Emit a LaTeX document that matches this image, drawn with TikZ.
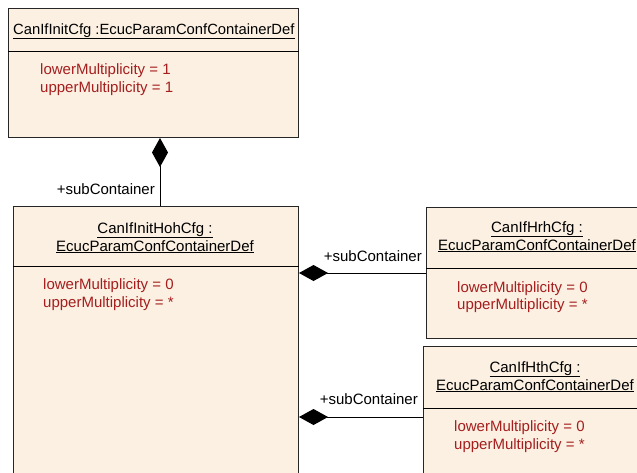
\documentclass[tikz,border=0pt]{standalone}
\usepackage{fontspec}
\setmainfont{Liberation Sans}
\usepackage{tikz}
\usetikzlibrary{arrows.meta}

\definecolor{clsfill}{RGB}{251,240,226}
\definecolor{attrred}{RGB}{165,30,30}

\begin{document}
\begin{tikzpicture}[x=1pt, y=-1pt,
    every node/.style={font=\fontsize{15}{18}\selectfont, inner sep=0pt},
    cls/.style={draw=black!85, fill=clsfill, line width=1pt, anchor=north west},
    ttl/.style={align=center, anchor=base},
    attr/.style={text=attrred, anchor=base west},
    lbl/.style={anchor=base east},
    comp/.style={line width=1pt, -{Diamond[length=29pt, width=16pt]}}]
  \clip (0,0) rectangle (637,472);
  % top container
  \node[cls, minimum width=290pt, minimum height=129pt] (initcfg) at (8,8) {};
  \draw[line width=1pt] (initcfg.west |- 0,51) -- (initcfg.east |- 0,51);
  \node[anchor=base west, font=\fontsize{14.8}{18}\selectfont] (initcfgname) at (13,34) {\underline{CanIfInitCfg :EcucParamConfContainerDef}};
  \node[attr] (initcfglow) at (40,74) {lowerMultiplicity = 1};
  \node[attr] (initcfgup) at (40,92) {upperMultiplicity = 1};
  % hoh container
  \node[cls, minimum width=285pt, minimum height=280pt] (hoh) at (13,206) {};
  \draw[line width=1pt] (hoh.west |- 0,266) -- (hoh.east |- 0,266);
  \node[ttl] (hohname) at (155,251) {\underline{CanIfInitHohCfg :}\\\underline{EcucParamConfContainerDef}};
  \node[attr] (hohlow) at (43,289) {lowerMultiplicity = 0};
  \node[attr] (hohup) at (43,307) {upperMultiplicity = *};
  % hrh container
  \node[cls, minimum width=220pt, minimum height=131pt] (hrh) at (426,207) {};
  \draw[line width=1pt] (hrh.west |- 0,268) -- (hrh.east |- 0,268);
  \node[ttl] (hrhname) at (537,250) {\underline{CanIfHrhCfg :}\\\underline{EcucParamConfContainerDef}};
  \node[attr] (hrhlow) at (457,292) {lowerMultiplicity = 0};
  \node[attr] (hrhup) at (457,309) {upperMultiplicity = *};
  % hth container
  \node[cls, minimum width=225pt, minimum height=140pt] (hth) at (423,346) {};
  \draw[line width=1pt] (hth.west |- 0,408) -- (hth.east |- 0,408);
  \node[ttl] (hthname) at (535,390) {\underline{CanIfHthCfg :}\\\underline{EcucParamConfContainerDef}};
  \node[attr] (hthlow) at (454,431) {lowerMultiplicity = 0};
  \node[attr] (hthup) at (454,449) {upperMultiplicity = *};
  % compositions
  \draw[comp] (hoh.north -| 160,0) -- (initcfg.south -| 160,0);
  \node[lbl] (hohrole) at (155,194) {+subContainer};
  \draw[comp] (hrh.west |- 0,273) -- (hoh.east |- 0,273);
  \node[lbl] (hrhrole) at (422,261) {+subContainer};
  \draw[comp] (hth.west |- 0,417) -- (hoh.east |- 0,417);
  \node[lbl] (hthrole) at (418,404) {+subContainer};
\end{tikzpicture}
\end{document}
